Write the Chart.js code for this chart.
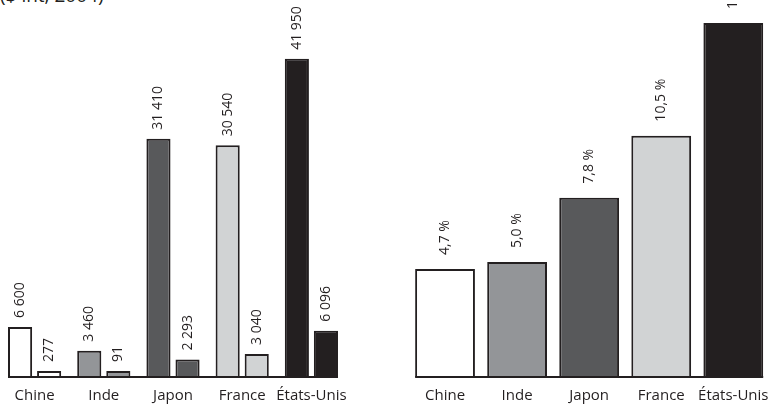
<!DOCTYPE html>
<html lang="fr">
<head>
<meta charset="utf-8">
<script src="https://cdn.jsdelivr.net/npm/chart.js@4/dist/chart.umd.min.js"></script>
<style>
  body { margin: 0; background: #fff; overflow: hidden; width: 779px; height: 407px; position: relative; }
  .bloc { position: absolute; top: 0; height: 417px; }
  #unite { position: absolute; left: 0; top: -14px; font: 19px/19px "Open Sans", sans-serif; color: #231f20; white-space: nowrap; }
</style>
</head>
<body>
<div id="unite">($ int, 2004)</div>
<div class="bloc" style="left:0;width:360px"><canvas id="graphRevenu" width="360" height="417"></canvas></div>
<div class="bloc" style="left:400px;width:379px"><canvas id="graphPart" width="379" height="417"></canvas></div>
<script>
// Données
const pays = ['Chine', 'Inde', 'Japon', 'France', 'États-Unis'];
const pibParHabitant = [6600, 3460, 31410, 30540, 41950];
const depenseSanteParHabitant = [277, 91, 2293, 3040, 6096];
const partSantePib = [4.7, 5.0, 7.8, 10.5, 15.4];
const couleurs = ['#ffffff', '#939598', '#58595b', '#d1d3d4', '#231f20'];

Chart.defaults.font.family = "'Open Sans', sans-serif";
Chart.defaults.color = '#231f20';

function enMilliers(v) {
  return String(v).replace(/\B(?=(\d{3})+(?!\d))/g, ' ');
}
function enPourcent(v) {
  return v.toFixed(1).replace('.', ',') + ' %';
}

// étiquettes verticales au-dessus des barres
const etiquettes = {
  id: 'etiquettes',
  afterDatasetsDraw(chart, args, opts) {
    const ctx = chart.ctx;
    ctx.save();
    ctx.font = '14px "Open Sans"';
    ctx.fillStyle = '#231f20';
    ctx.textAlign = 'left';
    ctx.textBaseline = 'middle';
    chart.data.datasets.forEach((ds, i) => {
      chart.getDatasetMeta(i).data.forEach((barre, j) => {
        ctx.save();
        ctx.translate(barre.x, barre.y - opts.ecart);
        ctx.rotate(-Math.PI / 2);
        ctx.fillText(opts.format(ds.data[j]), 0, 0);
        ctx.restore();
      });
    });
    ctx.restore();
  }
};

// trait de base limité aux barres
const ligneBase = {
  id: 'ligneBase',
  afterDatasetsDraw(chart) {
    const metas = chart.getSortedVisibleDatasetMetas();
    const premiere = metas[0].data[0];
    const derniere = metas[metas.length - 1].data[metas[metas.length - 1].data.length - 1];
    const y = chart.scales.y.getPixelForValue(0);
    const ctx = chart.ctx;
    ctx.save();
    ctx.strokeStyle = '#231f20';
    ctx.lineWidth = 2;
    ctx.beginPath();
    ctx.moveTo(premiere.x - premiere.width / 2, y);
    ctx.lineTo(derniere.x + derniere.width / 2, y);
    ctx.stroke();
    ctx.restore();
  }
};

function axeX() {
  return {
    grid: { display: false, drawTicks: false },
    border: { display: false },
    ticks: { padding: 10, font: { size: 15 }, color: '#231f20', maxRotation: 0, minRotation: 0, autoSkip: false }
  };
}

new Chart(document.getElementById('graphRevenu'), {
  type: 'bar',
  data: {
    labels: pays,
    datasets: [{
      data: pibParHabitant,
      backgroundColor: couleurs,
      borderColor: '#231f20',
      borderWidth: 2
    }, {
      data: depenseSanteParHabitant,
      backgroundColor: couleurs,
      borderColor: '#231f20',
      borderWidth: 2,
      minBarLength: 6
    }]
  },
  options: {
    responsive: false,
    animation: false,
    categoryPercentage: 0.84,
    barPercentage: 0.83,
    layout: { padding: { left: 0, right: 14, top: 0, bottom: 2 } },
    scales: {
      x: axeX(),
      y: { display: false, min: 0, max: 49700 }
    },
    plugins: {
      legend: { display: false },
      tooltip: { enabled: false },
      etiquettes: { ecart: 9, format: enMilliers }
    }
  },
  plugins: [ligneBase, etiquettes]
});

new Chart(document.getElementById('graphPart'), {
  type: 'bar',
  data: {
    labels: pays,
    datasets: [{
      data: partSantePib,
      backgroundColor: couleurs,
      borderColor: '#231f20',
      borderWidth: 2
    }]
  },
  options: {
    responsive: false,
    animation: false,
    categoryPercentage: 1,
    barPercentage: 0.83,
    layout: { padding: { left: 9, right: 5, top: 0, bottom: 2 } },
    scales: {
      x: axeX(),
      y: { display: false, min: 0, max: 16.4 }
    },
    plugins: {
      legend: { display: false },
      tooltip: { enabled: false },
      etiquettes: { ecart: 14, format: enPourcent }
    }
  },
  plugins: [ligneBase, etiquettes]
});
</script>
</body>
</html>
